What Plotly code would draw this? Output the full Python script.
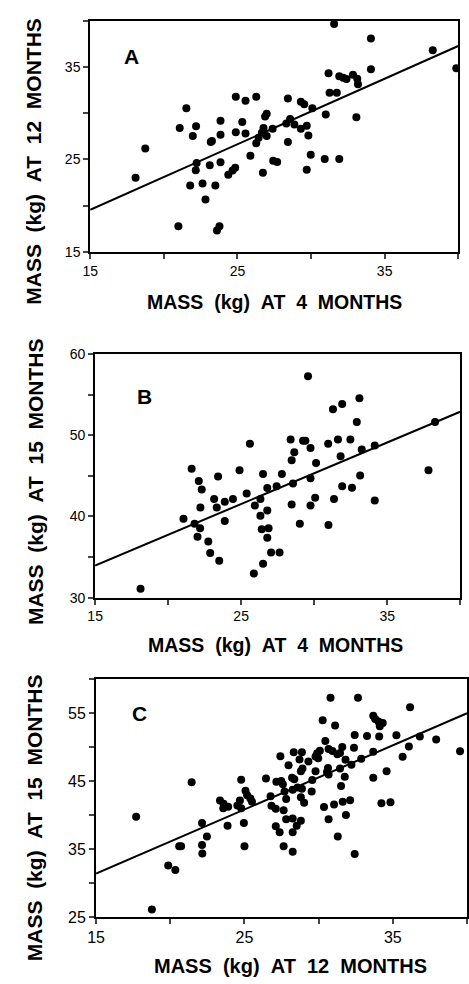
import plotly.graph_objects as go

# ---------------- Panel A: mass at 4 months vs mass at 12 months ----------------
a_x = [31.57, 34.07, 38.27, 39.87, 34.07, 31.19, 31.92, 32.19, 32.41, 32.85, 33.14, 33.19,
       31.26, 31.75, 31.0, 33.08, 28.43, 29.31, 29.54, 30.09, 24.89, 25.55, 26.28, 21.53,
       21.08, 22.19, 21.97, 23.85, 25.33, 24.89, 25.55, 23.85, 23.27, 23.19, 26.88, 26.99,
       26.77, 26.66, 26.44, 26.28, 26.99, 27.39, 28.32, 28.58, 28.87, 29.31, 29.71, 29.82,
       28.43, 18.74, 18.08, 22.23, 22.17, 23.12, 23.85, 25.88, 27.43, 27.7, 24.85, 24.67,
       24.38, 26.73, 29.98, 29.71, 30.93, 31.92, 21.79, 22.63, 23.5, 22.83, 20.99, 23.61, 23.78]
a_y = [39.65, 38.09, 36.8, 34.86, 34.75, 34.33, 34.0, 33.83, 33.69, 34.15, 33.72, 33.12,
       32.2, 32.2, 29.86, 29.57, 31.6, 31.24, 30.96, 30.53, 31.77, 31.35, 31.77, 30.53,
       28.4, 28.58, 27.52, 29.18, 29.04, 27.94, 27.8, 27.66, 26.99, 26.88, 29.65, 29.93,
       28.4, 27.87, 27.34, 26.74, 27.52, 28.3, 28.87, 29.36, 28.76, 28.3, 28.65, 27.59,
       26.88, 26.17, 23.01, 24.61, 23.83, 24.36, 24.68, 25.39, 24.86, 24.72, 24.08, 23.79,
       23.33, 23.55, 25.5, 23.87, 25.04, 25.04, 22.16, 22.38, 22.16, 20.64, 17.77, 17.3, 17.77]
a_fit = [8.905, 0.709]   # intercept, slope

# ---------------- Panel B: mass at 4 months vs mass at 15 months ----------------
b_x = [29.58, 33.1, 31.92, 31.29, 32.92, 38.28, 28.39, 29.24, 29.4, 31.63, 32.48, 30.96,
       25.6, 29.75, 28.64, 33.26, 34.15, 31.81, 28.46, 30.13, 21.61, 24.89, 37.83, 23.42,
       26.5, 27.79, 29.75, 33.15, 22.1, 22.3, 26.79, 27.43, 28.55, 31.92, 32.59, 25.38,
       23.15, 23.88, 24.44, 26.32, 30.07, 31.36, 34.15, 22.21, 23.33, 25.94, 28.46, 29.75,
       21.05, 21.81, 22.19, 23.88, 26.32, 26.79, 22.01, 22.75, 26.41, 26.88, 26.79, 29.02,
       30.98, 22.88, 23.5, 27.05, 27.63, 26.5, 25.87, 18.11]
b_y = [57.26, 54.53, 53.84, 53.2, 51.63, 51.63, 49.46, 49.3, 49.3, 49.46, 49.46, 48.93,
       48.93, 48.41, 47.89, 48.25, 48.73, 47.4, 46.92, 46.56, 45.88, 45.67, 45.67, 44.91,
       45.23, 45.23, 44.71, 45.03, 44.35, 43.3, 43.5, 43.7, 44.06, 43.7, 43.54, 42.82,
       42.13, 41.81, 42.13, 42.13, 42.29, 42.13, 41.97, 41.09, 41.09, 41.33, 41.45, 41.33,
       39.72, 39.11, 38.55, 39.44, 40.08, 40.72, 37.5, 36.9, 38.43, 38.55, 37.38, 39.11,
       38.95, 35.49, 34.53, 35.57, 35.57, 34.16, 32.96, 31.09]
b_fit = [22.6, 0.757]

# ---------------- Panel C: mass at 12 months vs mass at 15 months ----------------
c_x = [30.8, 32.65, 36.16, 30.27, 31.11, 33.68, 33.81, 34.03, 34.32, 34.12, 32.43, 33.26,
       34.08, 35.24, 36.82, 37.92, 30.45, 36.08, 39.53, 35.66, 33.68, 32.38, 31.59, 30.67,
       30.93, 31.26, 31.44, 30.08, 29.9, 29.79, 29.97, 28.32, 28.87, 28.71, 27.42, 27.97,
       29.31, 31.81, 32.87, 32.21, 31.44, 30.63, 30.56, 30.67, 29.79, 28.91, 28.8, 28.21,
       28.36, 29.57, 33.68, 34.58, 31.76, 31.51, 26.45, 27.15, 27.48, 27.59, 28.25, 28.58,
       28.87, 29.53, 24.78, 21.44, 25.07, 25.18, 25.4, 25.51, 24.69, 24.52, 24.78, 23.35,
       23.57, 23.9, 23.59, 26.76, 26.82, 27.11, 27.7, 27.81, 27.64, 28.8, 29.02, 30.36,
       31.04, 31.62, 32.12, 34.84, 34.23, 22.14, 23.86, 24.96, 22.47, 22.14, 22.16, 20.6,
       20.73, 19.86, 20.34, 25.0, 17.7, 18.76, 27.11, 27.37, 27.81, 28.25, 28.52, 28.8,
       28.25, 27.64, 28.25, 30.67, 31.29, 31.84, 32.43]
c_y = [57.26, 57.26, 55.87, 53.95, 53.18, 54.62, 54.14, 53.76, 53.56, 53.08, 51.79, 51.64,
       51.55, 51.74, 51.55, 51.12, 50.92, 50.11, 49.39, 48.57, 49.34, 49.92, 50.01, 49.72,
       49.44, 48.96, 49.15, 49.48, 49.1, 48.62, 48.38, 49.24, 49.24, 48.19, 48.67, 47.32,
       47.9, 48.14, 48.28, 47.42, 46.84, 46.94, 46.36, 45.98, 46.46, 46.84, 46.46, 45.5,
       45.26, 45.16, 45.5, 46.46, 45.64, 44.3, 45.4, 44.92, 45.02, 44.54, 43.72, 44.06,
       43.87, 43.48, 45.21, 44.83, 43.58, 42.91, 42.43, 41.95, 42.14, 41.42, 40.99, 42.14,
       40.99, 41.23, 41.67, 42.76, 41.37, 40.94, 43.48, 42.38, 40.7, 42.62, 41.8, 41.18,
       41.56, 41.95, 42.19, 41.9, 41.75, 38.83, 38.44, 38.83, 36.86, 35.61, 34.36, 35.42,
       35.42, 32.59, 31.91, 35.42, 39.74, 26.1, 38.35, 37.48, 39.4, 39.5, 38.44, 39.16,
       37.48, 35.42, 34.6, 39.4, 36.86, 40.03, 34.27]
c_fit = [17.23, 0.944]

x_range = [15, 40]
x_ticks = [15, 20, 25, 30, 35, 40]
x_ticktext = ["15", "", "25", "", "35", ""]

a_yticks = [15, 20, 25, 30, 35, 40]
a_yticktext = ["15", "", "25", "", "35", ""]
b_yticks = [30, 35, 40, 45, 50, 55, 60]
b_yticktext = ["30", "", "40", "", "50", "", "60"]
c_yticks = [25, 30, 35, 40, 45, 50, 55, 60]
c_yticktext = ["25", "", "35", "", "45", "", "55", ""]

panel_labels = ["A", "B", "C"]
x_titles = ["MASS (kg) AT 4 MONTHS", "MASS (kg) AT 4 MONTHS", "MASS (kg) AT 12 MONTHS"]
y_titles = ["MASS (kg) AT 12 MONTHS", "MASS (kg) AT 15 MONTHS", "MASS (kg) AT 15 MONTHS"]

W, H = 469, 984
FONT = "Liberation Sans, Arial, Helvetica, sans-serif"


def spaced(s):
    return s.replace(" ", "\u00a0\u00a0")


fig = go.Figure()

panels = [
    (a_x, a_y, a_fit, [15, 40], a_yticks, a_yticktext, (83, 459, 13, 248)),
    (b_x, b_y, b_fit, [30, 60], b_yticks, b_yticktext, (88, 461, 352, 600)),
    (c_x, c_y, c_fit, [25, 60], c_yticks, c_yticktext, (89, 468, 683, 925)),
]

layout = dict(
    width=W, height=H, margin=dict(l=0, r=0, t=0, b=0),
    paper_bgcolor="white", plot_bgcolor="white", showlegend=False,
    font=dict(family=FONT, color="black"),
)
annotations = []

for i, (px, py, fit, yr, yt, ytt, (l, r, t, b)) in enumerate(panels):
    n = "" if i == 0 else str(i + 1)
    xa, ya = "x" + n, "y" + n
    fig.add_trace(go.Scatter(x=px, y=py, mode="markers", xaxis=xa, yaxis=ya,
                             marker=dict(color="black", size=8)))
    fx = x_range
    fy = [fit[0] + fit[1] * v for v in fx]
    fig.add_trace(go.Scatter(x=fx, y=fy, mode="lines", xaxis=xa, yaxis=ya,
                             line=dict(color="black", width=2)))
    tick_size = 16 if i == 2 else 14
    layout["xaxis" + n] = dict(
        domain=[l / W, r / W], range=x_range, anchor=ya,
        tickvals=x_ticks, ticktext=x_ticktext, ticks="outside", ticklen=5, tickwidth=1.5,
        showline=True, linewidth=2, linecolor="black", mirror=True,
        showgrid=False, zeroline=False, tickfont=dict(size=tick_size, family=FONT),
    )
    layout["yaxis" + n] = dict(
        domain=[1 - b / H, 1 - t / H], range=yr, anchor=xa,
        tickvals=yt, ticktext=ytt, ticks="outside", ticklen=5, tickwidth=1.5,
        showline=True, linewidth=2, linecolor="black", mirror=True,
        showgrid=False, zeroline=False, tickfont=dict(size=tick_size, family=FONT),
    )

# panel letters
label_pos = [(125, 49), (138, 395), (133, 718)]
for lab, (lx, ly) in zip(panel_labels, label_pos):
    annotations.append(dict(text="<b>%s</b>" % lab, x=lx / W, y=1 - ly / H, xref="paper", yref="paper",
                            showarrow=False, font=dict(size=21, family=FONT), xanchor="center", yanchor="middle"))

# x titles
xt_pos = [(271, 299), (272, 648), (288, 975)]
xt_size = [19.5, 19.5, 20]
for txt, (tx, ty), fs in zip(x_titles, xt_pos, xt_size):
    annotations.append(dict(text="<b>%s</b>" % spaced(txt), x=tx / W, y=1 - ty / H, xref="paper", yref="paper",
                            showarrow=False, font=dict(size=fs, family=FONT), xanchor="center", yanchor="middle"))

# y titles
yt_pos = [(25, 156), (27, 482), (26, 824)]
for txt, (tx, ty) in zip(y_titles, yt_pos):
    annotations.append(dict(text="<b>%s</b>" % spaced(txt), x=tx / W, y=1 - ty / H, xref="paper", yref="paper",
                            showarrow=False, textangle=-90, font=dict(size=21, family=FONT),
                            xanchor="center", yanchor="middle"))

layout["annotations"] = annotations
fig.update_layout(**layout)
fig.write_html("out.html")
